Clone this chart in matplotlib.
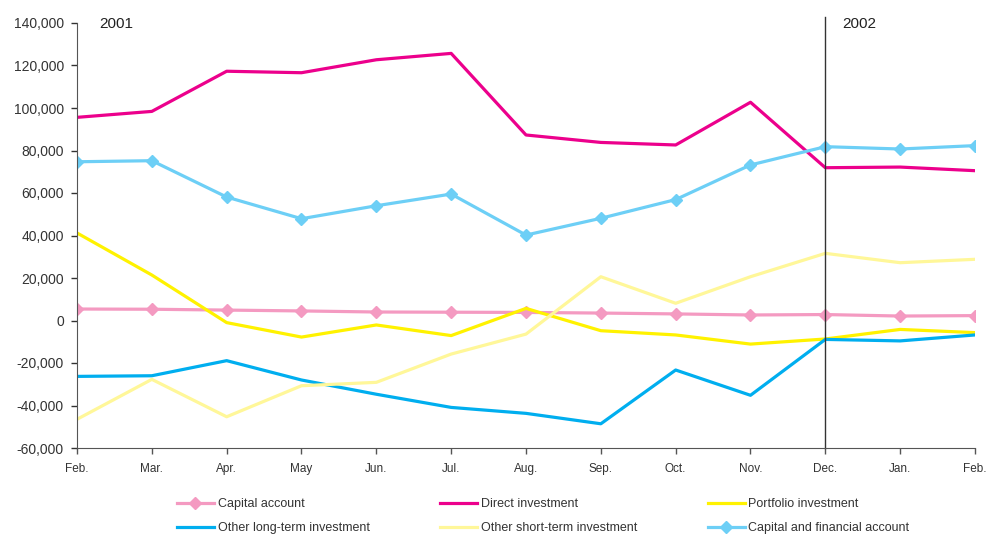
import matplotlib
matplotlib.use("Agg")
import matplotlib.pyplot as plt
from matplotlib.ticker import FuncFormatter

plt.rcParams['font.family'] = ['Liberation Sans', 'DejaVu Sans']

months = ['Feb.', 'Mar.', 'Apr.', 'May', 'Jun.', 'Jul.', 'Aug.', 'Sep.',
          'Oct.', 'Nov.', 'Dec.', 'Jan.', 'Feb.']

capital_account = [5400, 5300, 4900, 4500, 4000, 3900, 3800, 3500, 3100, 2600, 2800, 2100, 2300]
direct_investment = [95600, 98400, 117300, 116600, 122700, 125700, 87300, 83800, 82600, 102700, 71900, 72200, 70500]
portfolio_investment = [41200, 21400, -1000, -7800, -2100, -7100, 5700, -4800, -6800, -11100, -8700, -4200, -5700]
other_long_term = [-26300, -26000, -18900, -28000, -34700, -40900, -43700, -48600, -23300, -35200, -8900, -9600, -6800]
other_short_term = [-46500, -27700, -45300, -30700, -29100, -15800, -6400, 20600, 8100, 20600, 31600, 27200, 28800]
capital_financial = [74700, 75200, 58100, 47900, 54000, 59500, 40200, 48100, 56900, 73200, 81800, 80700, 82300]

yticks = [-60000, -40000, -20000, 0, 20000, 40000, 60000, 80000, 100000, 120000, 140000]

fig = plt.figure(figsize=(9.87, 5.34), dpi=100)
ax = fig.add_axes([77 / 987, 1 - 448 / 534, (975 - 77) / 987, (448 - 23) / 534])

x = list(range(len(months)))
lw = 2.3
h_ca, = ax.plot(x, capital_account, color='#F49AC1', lw=lw, marker='D', ms=6, label='Capital account')
h_di, = ax.plot(x, direct_investment, color='#EC008C', lw=lw, label='Direct investment')
h_pi, = ax.plot(x, portfolio_investment, color='#FFF200', lw=lw, label='Portfolio investment')
h_lt, = ax.plot(x, other_long_term, color='#00AEEF', lw=lw, label='Other long-term investment')
h_st, = ax.plot(x, other_short_term, color='#FFF799', lw=lw, label='Other short-term investment')
h_cf, = ax.plot(x, capital_financial, color='#6DCFF6', lw=lw, marker='D', ms=6, label='Capital and financial account')

# year divider
ax.axvline(10, ymin=0, ymax=1.015, color='#333333', lw=1, clip_on=False)
ax.text(0.3, 137800, '2001', fontsize=11, color='#222222', va='baseline')
ax.text(10.22, 137800, '2002', fontsize=11, color='#222222', va='baseline')

ax.set_xlim(0, 12)
ax.set_ylim(-60000, 140000)
ax.set_xticks(x)
ax.set_xticklabels(months, fontsize=8.5)
ax.set_yticks(yticks)
ax.yaxis.set_major_formatter(FuncFormatter(lambda v, p: f"{v:,.0f}"))
ax.tick_params(axis='y', labelsize=10, colors='#333333', length=4, width=1, pad=5.5)
ax.tick_params(axis='x', length=4, width=1, colors='#555555', pad=7)
for lbl in ax.get_xticklabels():
    lbl.set_color('#333333')
ax.spines['top'].set_visible(False)
ax.spines['right'].set_visible(False)
ax.spines['left'].set_color('#555555')
ax.spines['bottom'].set_color('#555555')

handles = [h_ca, h_lt, h_di, h_st, h_pi, h_cf]
leg = fig.legend(handles, [h.get_label() for h in handles], ncol=3, frameon=False,
                 loc='upper left', bbox_to_anchor=(177 / 987, 1 - 498 / 534),
                 borderpad=0, borderaxespad=0, fontsize=9, handlelength=2.95,
                 handletextpad=0.3, columnspacing=5.65, labelspacing=0.98,
                 numpoints=1)
for t in leg.get_texts():
    t.set_color('#333333')

fig.savefig('out.png', dpi=100)
